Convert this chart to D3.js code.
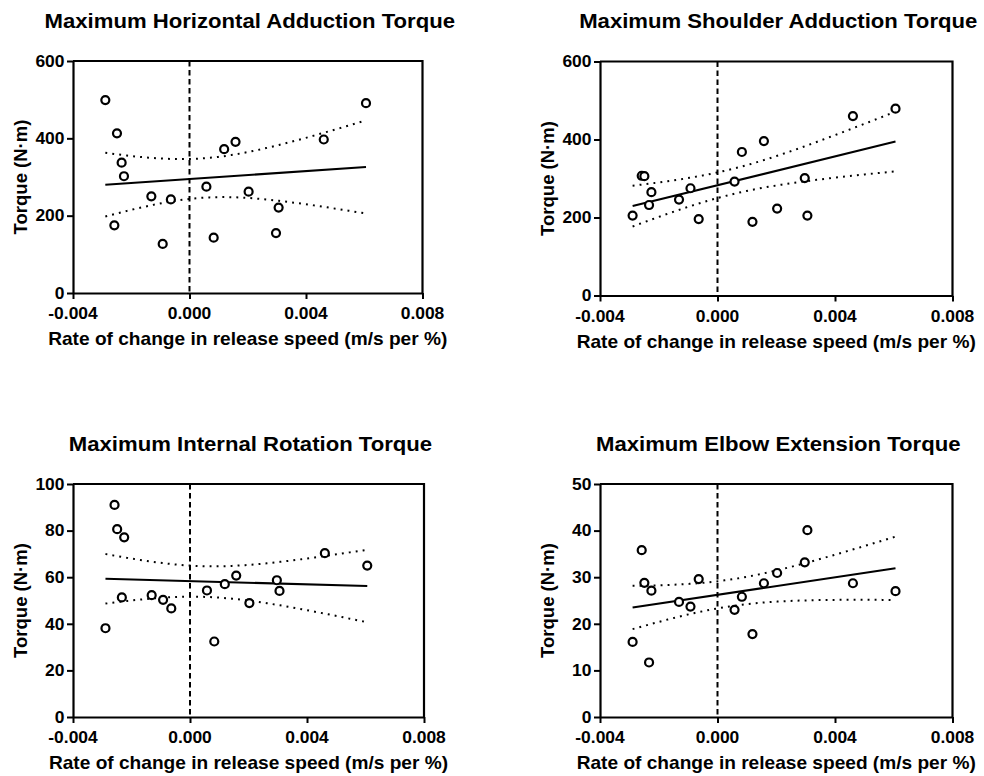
<!DOCTYPE html>
<html>
<head>
<meta charset="utf-8">
<script src="https://cdn.jsdelivr.net/npm/d3@7/dist/d3.min.js"></script>
<style>
  html, body { margin: 0; padding: 0; background: #fff; }
  svg { display: block; }
  text { font-family: "Liberation Sans", Arial, Helvetica, sans-serif; font-weight: bold; fill: #000; }
</style>
</head>
<body>
<svg id="chart" width="984" height="776"></svg>
<script>
// ---- Data ----
const releaseRate = [-0.00289, -0.00258, -0.00249, -0.00233, -0.00225, -0.00131, -0.00092, -0.00064,
                     0.00058, 0.00083, 0.00119, 0.00158, 0.00203, 0.00297, 0.00306, 0.00461, 0.00606];
const horizontalAdduction = [499, 175, 413, 337, 302, 250, 127, 242, 275, 143, 372, 391, 262, 155, 221, 397, 491];
const shoulderAdduction   = [205, 307, 306, 232, 265, 246, 275, 196, 292, 368, 189, 396, 223, 301, 205, 460, 479];
const internalRotation    = [38.1, 91, 80.6, 51.3, 77.1, 52.3, 50.3, 46.6, 54.3, 32.4, 57, 60.7, 48.9, 58.7, 54.1, 70.3, 65];
const elbowExtension      = [16.1, 35.8, 28.8, 11.7, 27.1, 24.7, 23.7, 29.6, 23, 25.8, 17.8, 28.7, 30.9, 33.2, 40.1, 28.7, 27];

const panelTitles = ["Maximum Horizontal Adduction Torque", "Maximum Shoulder Adduction Torque",
                     "Maximum Internal Rotation Torque", "Maximum Elbow Extension Torque"];
const xTicks = [-0.004, 0, 0.004, 0.008];
const xTickLabels = ["-0.004", "0.000", "0.004", "0.008"];
const yTicksTop = [0, 200, 400, 600];
const yTicksRotation = [0, 20, 40, 60, 80, 100];
const yTicksElbow = [0, 10, 20, 30, 40, 50];
const xDomain = [-0.004, 0.008];
const xAxisTitle = "Rate of change in release speed (m/s per %)";
const yAxisTitle = "Torque (N\u00B7m)";
const tCrit90 = 1.753; // t(0.95, df = 15) -> 90% confidence band

// ---- Layout ----
const panels = [
  { title: panelTitles[0], values: horizontalAdduction, yDomain: [0, 600], yTicks: yTicksTop,
    left: 73, right: 422.5, top: 61, bottom: 293 },
  { title: panelTitles[1], values: shoulderAdduction, yDomain: [0, 600], yTicks: yTicksTop,
    left: 600, right: 952.5, top: 61.5, bottom: 295.5 },
  { title: panelTitles[2], values: internalRotation, yDomain: [0, 100], yTicks: yTicksRotation,
    left: 73, right: 424, top: 484, bottom: 717 },
  { title: panelTitles[3], values: elbowExtension, yDomain: [0, 50], yTicks: yTicksElbow,
    left: 600, right: 952.5, top: 484, bottom: 717 }
];

const svg = d3.select("#chart");

function stretchedText(g, x, y, str, size, sx, anchor, rotate) {
  return g.append("text")
    .attr("transform", `translate(${x},${y})` + (rotate ? ` rotate(${rotate})` : "") + ` scale(${sx},1)`)
    .attr("text-anchor", anchor)
    .style("font-size", size + "px")
    .text(str);
}

function linFit(xs, ys) {
  const n = xs.length;
  const mx = d3.mean(xs), my = d3.mean(ys);
  let sxx = 0, sxy = 0;
  for (let i = 0; i < n; i++) { sxx += (xs[i] - mx) ** 2; sxy += (xs[i] - mx) * (ys[i] - my); }
  const b = sxy / sxx, a = my - b * mx;
  let ss = 0;
  for (let i = 0; i < n; i++) ss += (ys[i] - (a + b * xs[i])) ** 2;
  const s = Math.sqrt(ss / (n - 2));
  return { a, b, mx, sxx, s, n };
}

panels.forEach(p => {
  const g = svg.append("g");
  const x = d3.scaleLinear().domain(xDomain).range([p.left, p.right]);
  const y = d3.scaleLinear().domain(p.yDomain).range([p.bottom, p.top]);
  const cx = (p.left + p.right) / 2;

  // title
  stretchedText(g, cx + 2, p.top - 33.5, p.title, 19.5, 1.135, "middle");

  // dashed zero line
  g.append("line")
    .attr("x1", x(0)).attr("x2", x(0))
    .attr("y1", p.top).attr("y2", p.bottom)
    .attr("stroke", "#000").attr("stroke-width", 2)
    .attr("stroke-dasharray", "5.5,3.5");

  // regression + 90% CI band
  const fit = linFit(releaseRate, p.values);
  const xmin = d3.min(releaseRate), xmax = d3.max(releaseRate);
  const xsCurve = d3.range(0, 61).map(i => xmin + (xmax - xmin) * i / 60);
  const band = sign => xsCurve.map(xv => {
    const yhat = fit.a + fit.b * xv;
    const se = fit.s * Math.sqrt(1 / fit.n + (xv - fit.mx) ** 2 / fit.sxx);
    return [xv, yhat + sign * tCrit90 * se];
  });
  const line = d3.line().x(d => x(d[0])).y(d => y(d[1]));
  [1, -1].forEach(sign => {
    g.append("path").attr("d", line(band(sign)))
      .attr("fill", "none").attr("stroke", "#000").attr("stroke-width", 2)
      .attr("stroke-dasharray", "1.9,5.1");
  });
  g.append("path").attr("d", line([[xmin, fit.a + fit.b * xmin], [xmax, fit.a + fit.b * xmax]]))
    .attr("fill", "none").attr("stroke", "#000").attr("stroke-width", 2.1);

  // points
  g.selectAll("circle.pt").data(releaseRate.map((xv, i) => [xv, p.values[i]]))
    .enter().append("circle").attr("class", "pt")
    .attr("cx", d => x(d[0])).attr("cy", d => y(d[1])).attr("r", 4)
    .attr("fill", "#fff").attr("stroke", "#000").attr("stroke-width", 2.2);

  // frame (top/right)
  g.append("path")
    .attr("d", `M${p.left},${p.top}H${p.right}V${p.bottom}`)
    .attr("fill", "none").attr("stroke", "#000").attr("stroke-width", 2.2);

  // axes
  const xAxis = d3.axisBottom(x).tickValues(xTicks).tickSize(6).tickSizeOuter(0)
    .tickFormat((d, i) => xTickLabels[i]);
  const gx = g.append("g").attr("transform", `translate(0,${p.bottom})`).call(xAxis);
  gx.select(".domain").attr("stroke-width", 2.2);
  gx.selectAll(".tick line").attr("stroke-width", 2);
  gx.selectAll(".tick text").remove();
  xTicks.forEach((tv, i) => stretchedText(g, x(tv), p.bottom + 26, xTickLabels[i], 16.3, 1.07, "middle"));

  const yAxis = d3.axisLeft(y).tickValues(p.yTicks).tickSize(6).tickSizeOuter(0);
  const gy = g.append("g").attr("transform", `translate(${p.left},0)`).call(yAxis);
  gy.select(".domain").attr("stroke-width", 2.2);
  gy.selectAll(".tick line").attr("stroke-width", 2);
  gy.selectAll(".tick text").remove();
  p.yTicks.forEach(tv => stretchedText(g, p.left - 8.5, y(tv) + 5.8, String(tv), 16.3, 1.07, "end"));

  // axis titles
  stretchedText(g, cx, p.bottom + 52, xAxisTitle, 17.7, 1.08, "middle");
  stretchedText(g, p.left - 46, (p.top + p.bottom) / 2, yAxisTitle, 18.5, 1.0, "middle", -90);
});
</script>
</body>
</html>
